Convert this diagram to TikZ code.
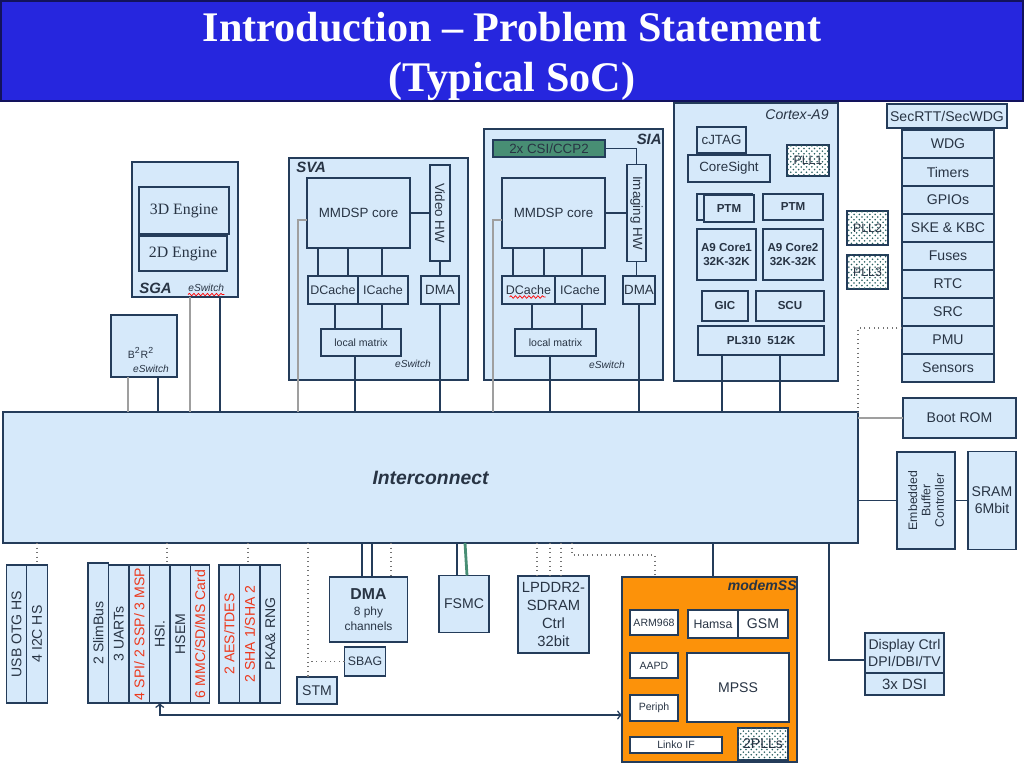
\documentclass[tikz,border=0pt]{standalone}
\usepackage{fontspec}
\setmainfont{Liberation Sans}
\newfontfamily\serfam{Liberation Serif}
\usetikzlibrary{positioning,patterns,decorations.pathmorphing}

\definecolor{boxfill}{RGB}{214,233,250}
\definecolor{boxline}{RGB}{36,60,90}
\definecolor{boxtext}{RGB}{40,52,68}
\definecolor{barfill}{RGB}{38,38,222}
\definecolor{barline}{RGB}{18,18,92}
\definecolor{mdmfill}{RGB}{252,146,10}
\definecolor{csifill}{RGB}{72,142,116}
\definecolor{redtext}{RGB}{236,56,28}
\definecolor{dotcol}{RGB}{40,96,96}

\begin{document}
\begin{tikzpicture}[x=0.2mm,y=-0.2mm,node distance=5.6mm,
    sz/.style 2 args = {minimum width=#1*0.2mm, minimum height=#2*0.2mm},
    blk/.style = {rectangle, draw=boxline, fill=boxfill, line width=0.6pt, inner sep=0pt, outer sep=0pt,
                  text=boxtext, align=center, font=\fontsize{7.6}{9}\selectfont},
    col/.style = {blk, sz={92}{28}, font=\fontsize{8}{9}\selectfont},
    cache/.style = {blk, sz={50}{28}, font=\fontsize{7.1}{8}\selectfont},
    wbox/.style = {blk, fill=white, font=\fontsize{6}{7}\selectfont},
    pll/.style = {blk, fill=white, postaction={pattern=crosshatch dots, pattern color=dotcol}, font=\fontsize{7}{8}\selectfont},
    strip/.style = {blk, rotate=90, sz={138}{20.5}, font=\fontsize{8}{9}\selectfont},
    bold/.style = {font=\bfseries\fontsize{6.6}{8}\selectfont},
    lbl/.style = {inner sep=0pt, text=boxtext, font=\bfseries\itshape\fontsize{8.5}{10}\selectfont},
    esw/.style = {inner sep=0pt, text=boxtext, font=\itshape\fontsize{5.8}{7}\selectfont},
    dkline/.style = {draw=boxline, line width=0.9pt},
    gline/.style = {draw=gray!75, line width=0.6pt},
    dline/.style = {draw=gray!90!black, dotted, line width=0.6pt},
    squig/.style = {draw=red, line width=0.4pt, decorate, decoration={snake, amplitude=0.25mm, segment length=0.9mm}}]

\useasboundingbox (0,0) rectangle (1024,768);

% title bar
\draw[fill=barfill, draw=barline, line width=1.5pt] (1,1) rectangle (1023,101);
\node[anchor=base, text=white, font=\serfam\bfseries\fontsize{24}{28}\selectfont] (ttl1) at (512,42) {Introduction – Problem Statement};
\node[anchor=base, text=white, font=\serfam\bfseries\fontsize{24}{28}\selectfont] (ttl2) at (512,92) {(Typical SoC)};

% interconnect
\node[blk, sz={855}{131}, font=\bfseries\itshape\fontsize{11}{13}\selectfont] (ic) at (430.5,477.5) {Interconnect};

% SGA and B2R2
\node[blk, sz={106}{135}] (sga) at (185,229.5) {};
\node[blk, sz={90}{47}, font=\serfam\fontsize{9}{11}\selectfont] (eng3d) at (184,210.5) {3D Engine};
\node[blk, sz={88}{35}, font=\serfam\fontsize{9}{11}\selectfont] (eng2d) at (183,253.5) {2D Engine};
\node[lbl, anchor=west] (sgalbl) at (139,288) {SGA};
\node[esw, anchor=west] (sgasw) at (188,288) {eSwitch};
\draw[squig] ([yshift=-0.5mm]sgasw.south west) -- ([yshift=-0.5mm]sgasw.south east);
\node[blk, sz={66}{62}] (b2r2) at (144,346) {};
\node[inner sep=0pt, text=boxtext, font=\fontsize{6}{7}\selectfont] (b2lbl) at (141,353) {B\textsuperscript{2}R\textsuperscript{2}};
\node[esw] (b2sw) at (151,369) {eSwitch};

\draw[gline] (sga.south -| 190,0) -- (ic.north -| 190,0);
\draw[dkline] (sga.south -| 220,0) -- (ic.north -| 220,0);
\draw[gline] (b2r2.south -| 128,0) -- (ic.north -| 128,0);
\draw[dkline] (b2r2.south -| 158,0) -- (ic.north -| 158,0);

% SVA
\node[blk, sz={179}{222}] (sva) at (378.5,269) {};
\node[lbl, anchor=north west] (svalbl) at (296,162) {SVA};
\node[blk, sz={103}{70}] (svamm) at (358.5,213) {MMDSP core};
\node[blk, sz={96}{20}, rotate=-90] (vhw) at (440,213) {Video HW};
\node[blk, sz={38}{28}] (svadma) at (440,290) {DMA};
\node[cache] (svadc) at (333,290) {DCache};
\node[cache] (svaic) at (383,290) {ICache};
\node[blk, sz={80}{27}, font=\fontsize{6}{7}\selectfont] (svalm) at (361,342.5) {local matrix};
\node[esw] (svasw) at (413,364) {eSwitch};

\draw[dkline] (svamm) -- (vhw);
\draw[dkline] (vhw.east) -- (svadma.north);
\draw[dkline] (svamm.south -| 318,0) -- (svadc.north -| 318,0);
\draw[dkline] (svamm.south -| 348,0) -- (svadc.north -| 348,0);
\draw[dkline] (svamm.south -| 382,0) -- (svaic.north -| 382,0);
\draw[dkline] (svadc.south -| 335,0) -- (svalm.north -| 335,0);
\draw[dkline] (svaic.south -| 382,0) -- (svalm.north -| 382,0);
\draw[dkline] (svalm.south -| 355,0) -- (ic.north -| 355,0);
\draw[dkline] (svadma.south) -- (ic.north -| svadma.south);
\draw[gline] (svamm.west |- 0,220) -| (ic.north -| 298,0);

% SIA
\node[blk, sz={179}{251}] (sia) at (573.5,254.5) {};
\node[lbl, anchor=north east] (sialbl) at (662,134) {SIA};
\node[blk, sz={112}{17}, fill=csifill] (csi) at (549,148.5) {2x CSI/CCP2};
\node[blk, sz={97}{19}, rotate=-90] (ihw) at (636.5,213) {Imaging HW};
\node[blk, sz={103}{70}] (siamm) at (553.5,213) {MMDSP core};
\node[blk, sz={32}{28}] (siadma) at (639,290) {DMA};
\node[cache, sz={53}{28}] (siadc) at (528.5,290) {DCache};
\node[cache] (siaic) at (580,290) {ICache};
\node[blk, sz={81}{27}, font=\fontsize{6}{7}\selectfont] (sialm) at (555.5,342.5) {local matrix};
\node[esw] (siasw) at (607,365) {eSwitch};
\draw[squig] ([shift={(-19,7)}]siadc.center) -- ++(36,0);

\draw[dkline] (csi.east) -| (ihw.west);
\draw[dkline] (siamm) -- (ihw);
\draw[dkline] (ihw.east) -- (siadma.north -| ihw.east);
\draw[dkline] (siamm.south -| 513,0) -- (siadc.north -| 513,0);
\draw[dkline] (siamm.south -| 544,0) -- (siadc.north -| 544,0);
\draw[dkline] (siamm.south -| 582,0) -- (siaic.north -| 582,0);
\draw[dkline] (siadc.south -| 532,0) -- (sialm.north -| 532,0);
\draw[dkline] (siaic.south -| 582,0) -- (sialm.north -| 582,0);
\draw[dkline] (sialm.south -| 550,0) -- (ic.north -| 550,0);
\draw[dkline] (siadma.south) -- (ic.north -| siadma.south);
\draw[gline] (siamm.west |- 0,220) -| (ic.north -| 493,0);

% Cortex-A9
\node[blk, sz={164}{278}] (a9) at (756,242) {};
\node[inner sep=0pt, text=boxtext, font=\itshape\fontsize{8}{9}\selectfont, anchor=north east] (a9lbl) at (829,109) {Cortex-A9};
\node[blk, sz={49}{26}] (cjtag) at (721.5,140) {cJTAG};
\node[blk, sz={82}{27}] (cores) at (729,168.5) {CoreSight};
\node[pll, sz={42}{31}] (pll1) at (808,160.5) {PLL1};
\node[blk, sz={55}{26}] (ptmbk) at (724.5,207) {};
\node[blk, bold, sz={50}{27}] (ptm1) at (729,208.5) {PTM};
\node[blk, bold, sz={60}{26}] (ptm2) at (793,207) {PTM};
\node[blk, bold, sz={59}{51}] (core1) at (726.5,254.5) {A9 Core1\\32K-32K};
\node[blk, bold, sz={60}{51}] (core2) at (793,254.5) {A9 Core2\\32K-32K};
\node[blk, bold, sz={46}{30}] (gic) at (725,306) {GIC};
\node[blk, bold, sz={68}{30}] (scu) at (790,306) {SCU};
\node[blk, bold, sz={126}{29}] (pl310) at (761,340.5) {PL310\ \ 512K};
\draw[dkline] (pl310.south -| 722,0) -- (ic.north -| 722,0);
\draw[dkline] (pl310.south -| 780,0) -- (ic.north -| 780,0);

\node[pll, sz={41}{34}] (pll2) at (867.5,228) {PLL2};
\node[pll, sz={41}{34}, node distance=8.8mm, below of=pll2] (pll3) {PLL3};

% peripherals column
\node[blk, sz={120}{24}, font=\fontsize{8}{9}\selectfont] (secwdg) at (947,116) {SecRTT/SecWDG};
\node[col] (wdg) at (948,144) {WDG};
\node[col, below of=wdg] (timers) {Timers};
\node[col, below of=timers] (gpio) {GPIOs};
\node[col, below of=gpio] (ske) {SKE \& KBC};
\node[col, below of=ske] (fuses) {Fuses};
\node[col, below of=fuses] (rtc) {RTC};
\node[col, below of=rtc] (src) {SRC};
\node[col, below of=src] (pmu) {PMU};
\node[col, below of=pmu] (sens) {Sensors};
\draw[dline] ([yshift=-0.4mm]pmu.north west) -| (ic.north east);

% memories on the right
\node[blk, sz={113}{40}, font=\fontsize{8}{9}\selectfont] (brom) at (959.5,418) {Boot ROM};
\node[blk, rotate=90, sz={97}{58}, font=\fontsize{7}{7.6}\selectfont] (ebc) at (926,500.5) {Embedded\\Buffer\\Controller};
\node[blk, sz={48}{98}, font=\fontsize{8}{9.6}\selectfont] (sram) at (992,500.5) {SRAM\\6Mbit};
\draw[gline] (ic.east |- brom.west) -- (brom.west);
\draw[dkline] (ic.east |- ebc.north) -- (ebc.north);
\draw[dkline] (ebc.south) -- (sram.west);

% bottom peripherals
\node[strip] (usb) at (16.5,634) {USB OTG HS};
\node[strip] (i2c) at (37,634) {4 I2C HS};
\node[strip, sz={140}{20.5}] (slim) at (98.25,633) {2 SlimBus};
\node[strip] (uart) at (118.75,634) {3 UARTs};
\node[strip, text=redtext] (spi) at (139.25,634) {4 SPI/ 2 SSP/ 3 MSP};
\node[strip] (hsi) at (159.75,634) {HSI.};
\node[strip] (hsem) at (180.25,634) {HSEM};
\node[strip, sz={138}{19}, text=redtext] (mmc) at (200,634) {6 MMC/SD/MS Card};
\node[strip, text=redtext] (aes) at (229.25,634) {2 AES/TDES};
\node[strip, text=redtext] (sha) at (249.75,634) {2 SHA 1/SHA 2};
\node[strip] (pka) at (270.25,634) {PKA\& RNG};
\draw[dline] (ic.south -| i2c.east) -- (i2c.east);
\draw[dline] (ic.south -| 167,0) -- (hsi.east -| 167,0);
\draw[dline] (ic.south -| 248,0) -- (sha.east -| 248,0);

\node[blk, sz={40}{27}, font=\fontsize{8}{9}\selectfont] (stm) at (317,690.5) {STM};
\node[blk, sz={41}{29}, font=\fontsize{7}{8}\selectfont] (sbag) at (365,661.5) {SBAG};
\node[blk, sz={78}{65}, font=\fontsize{6.8}{8.4}\selectfont] (dma) at (368.5,609.5) {{\fontsize{9}{10}\selectfont\bfseries DMA}\\[1pt]8 phy\\channels};
\node[blk, sz={50}{57}, font=\fontsize{8}{9}\selectfont] (fsmc) at (464,604) {FSMC};
\node[blk, sz={71}{77}, font=\fontsize{8.4}{10.2}\selectfont] (ddr) at (553.5,614.5) {LPDDR2-\\SDRAM\\Ctrl\\32bit};
\draw[dline] (ic.south -| 308,0) -- (stm.north -| 308,0);
\draw[dline] (sbag.west) -- (sbag.west -| 308,0);
\draw[dkline] (ic.south -| 362,0) -- (dma.north -| 362,0);
\draw[dkline] (ic.south -| 372,0) -- (dma.north -| 372,0);
\draw[dline] (ic.south -| 391,0) -- (dma.north -| 391,0);
\draw[dkline] (ic.south -| 457,0) -- (fsmc.north -| 457,0);
\draw[draw=csifill, line width=1.6pt] (ic.south -| 465,0) -- (fsmc.north -| 467,0);
\draw[dline] (ic.south -| 537,0) -- (ddr.north -| 537,0);
\draw[dline] (ic.south -| 550,0) -- (ddr.north -| 550,0);
\draw[dline] (ic.south -| 561,0) -- (ddr.north -| 561,0);

% modem subsystem
\node[blk, fill=mdmfill, sz={175}{185}] (modem) at (709.5,669.5) {};
\node[lbl, anchor=north east, font=\bfseries\itshape\fontsize{8}{9}\selectfont] (mdmlbl) at (797,580) {modemSS};
\node[wbox, sz={48}{25}] (arm) at (654,622.5) {ARM968};
\node[wbox, sz={50}{28}, font=\fontsize{7}{8}\selectfont] (hamsa) at (713,624) {Hamsa};
\node[wbox, sz={50}{28}, font=\fontsize{8}{9}\selectfont] (gsm) at (763,624) {GSM};
\node[wbox, sz={48}{25}] (aapd) at (654,665.5) {AAPD};
\node[wbox, sz={102}{69}, font=\fontsize{8}{9}\selectfont] (mpss) at (738,687.5) {MPSS};
\node[wbox, sz={48}{26}] (periph) at (654,708) {Periph};
\node[wbox, sz={92}{16}] (linko) at (676,745) {Linko IF};
\node[pll, sz={50}{32}, font=\fontsize{8}{9}\selectfont] (plls) at (763,744) {2PLLs};
\draw[dline] (ic.south -| 572,0) |- (655,555) -- (modem.north -| 655,0);
\draw[dkline] (ic.south -| 713,0) -- (modem.north -| 713,0);
\draw[dkline, <->] (hsi.west) |- (modem.west |- 0,715);

% display
\node[blk, sz={79}{40}, font=\fontsize{8}{9.5}\selectfont] (disp) at (904.5,653) {Display Ctrl\\DPI/DBI/TV};
\node[blk, sz={79}{22}, font=\fontsize{8.5}{10}\selectfont, below=0pt of disp] (dsi) {3x DSI};
\draw[dkline, line width=1.6pt] (ic.south -| 829,0) |- ([yshift=-1.4mm]disp.west);
\end{tikzpicture}
\end{document}
